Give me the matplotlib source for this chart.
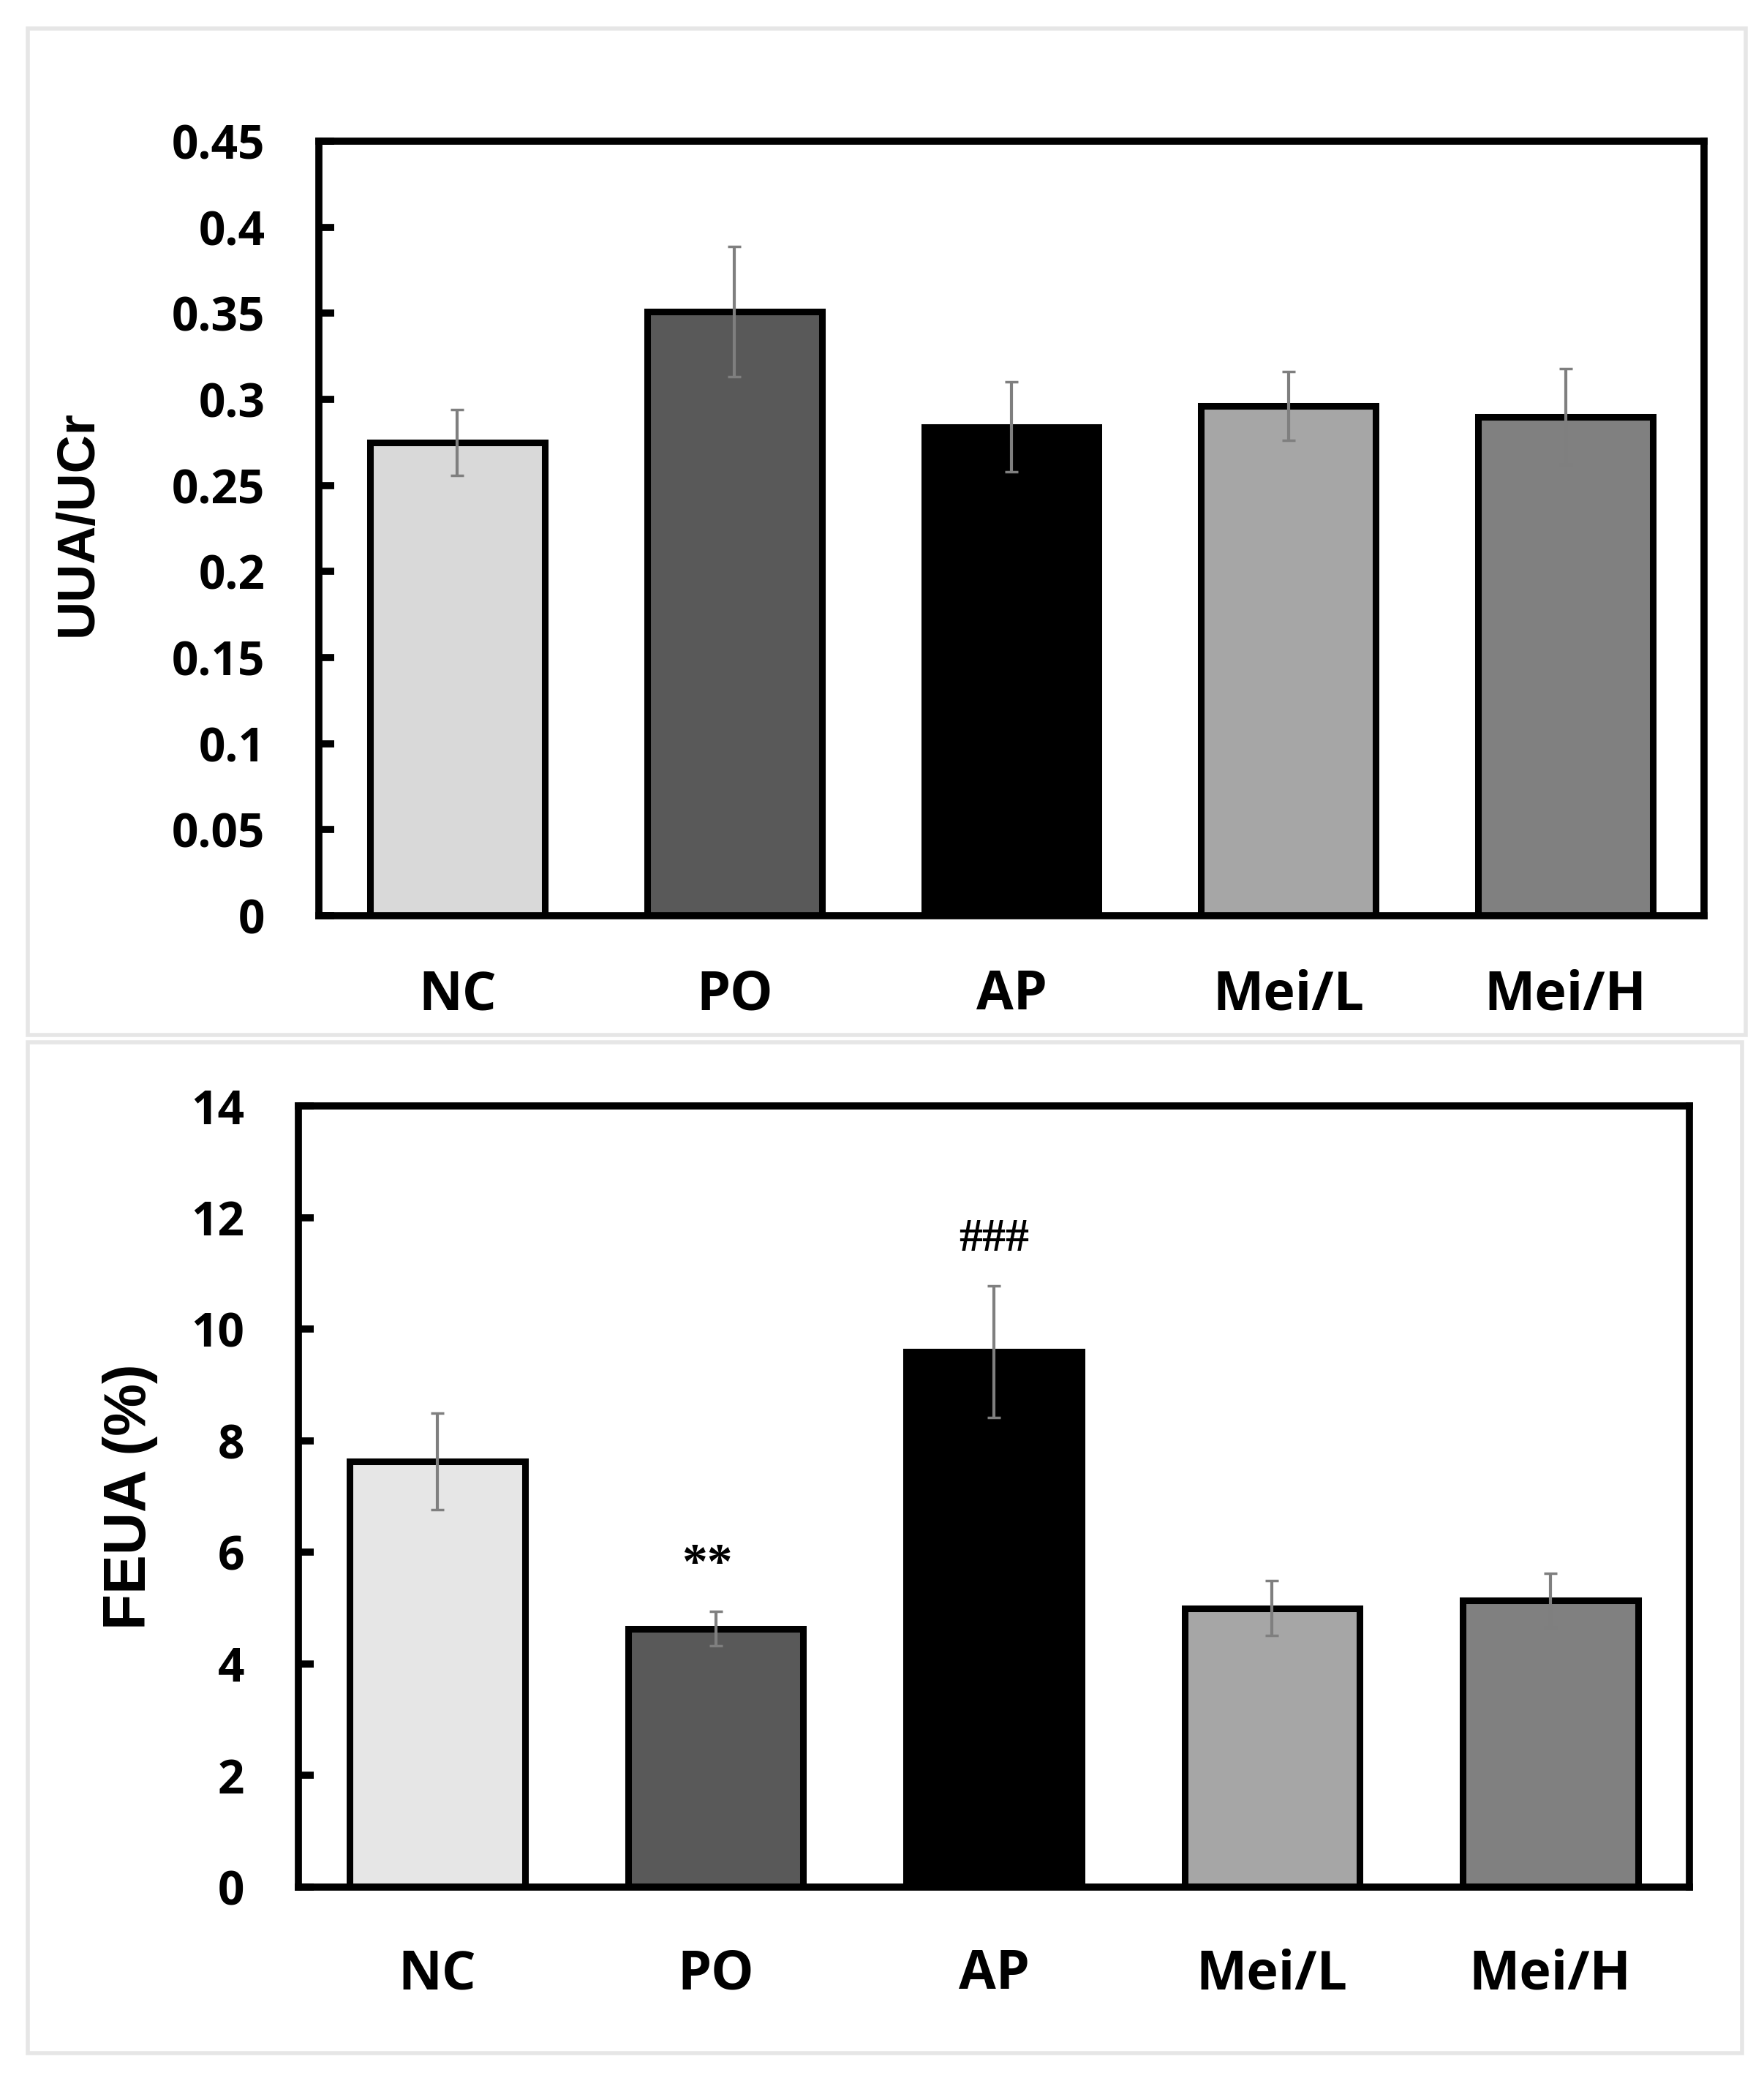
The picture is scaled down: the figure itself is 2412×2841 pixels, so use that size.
import matplotlib
matplotlib.use('Agg')
import matplotlib.pyplot as plt
from matplotlib.patches import Rectangle
import numpy as np

groups = ['NC', 'PO', 'AP', 'Mei/L', 'Mei/H']

uua_mean = [0.275, 0.351, 0.284, 0.296, 0.290]
uua_err = [0.019, 0.038, 0.026, 0.020, 0.028]

feua_mean = [7.63, 4.63, 9.59, 5.00, 5.14]
feua_err = [0.87, 0.31, 1.18, 0.49, 0.49]
feua_marks = ['**', '###']

colors_top = ['#d9d9d9', '#595959', '#000000', '#a6a6a6', '#808080']
colors_bottom = ['#e6e6e6', '#595959', '#000000', '#a6a6a6', '#808080']

tick_font = ['Open Sans', 'DejaVu Sans']
label_font = ['Liberation Sans', 'DejaVu Sans']


def drawBars(ax, means, errs, colors, ymax, step, xpad):
    x = np.arange(len(groups))
    ax.bar(x, means, width=0.63, color=colors, edgecolor='black', linewidth=6.5, zorder=2)
    ax.errorbar(x, means, yerr=errs, fmt='none', ecolor='#7f7f7f', elinewidth=3,
                capsize=6.5, capthick=2.5, zorder=3)
    ax.set_xlim(-0.5, len(groups) - 0.5)
    ax.set_ylim(0, ymax)
    ticks = np.arange(0, ymax + step / 2, step)
    ax.set_yticks(ticks)
    ax.set_yticklabels(['{:g}'.format(round(t, 2)) for t in ticks],
                       family=tick_font, fontweight='bold', fontsize=46)
    ax.set_xticks(x)
    ax.set_xticklabels(groups, family=tick_font, fontweight='bold', fontsize=53)
    ax.tick_params(axis='y', direction='in', length=15, width=7, pad=53)
    ax.tick_params(axis='x', length=0, pad=xpad)
    for s in ax.spines.values():
        s.set_linewidth(7)


fig = plt.figure(figsize=(24.12, 28.41), dpi=100)

# светло-серые рамки вокруг панелей
for (x0, y0, w, h) in [(38, 39, 2349, 1376), (38, 1425, 2344, 1382)]:
    fig.patches.append(Rectangle((x0 / 2412, 1 - (y0 + h) / 2841), w / 2412, h / 2841,
                                 transform=fig.transFigure, fill=False,
                                 edgecolor='#e6e6e6', linewidth=4))

ax1 = fig.add_axes([436 / 2412, 1 - 1252 / 2841, 1894 / 2412, 1059 / 2841])
drawBars(ax1, uua_mean, uua_err, colors_top, 0.45, 0.05, 52)
fig.text(107 / 2412, 1 - 715 / 2841, 'UUA/UCr', rotation=90, ha='center', va='center',
         family=label_font, fontweight='bold', fontsize=52)

ax2 = fig.add_axes([408 / 2412, 1 - 2580 / 2841, 1902 / 2412, 1068 / 2841])
drawBars(ax2, feua_mean, feua_err, colors_bottom, 14, 2, 60)
fig.text(178 / 2412, 1 - 2046 / 2841, 'FEUA (%)', rotation=90, ha='center', va='center',
         family=label_font, fontweight='bold', fontsize=58)

ax2.text(0.97, 5.53, feua_marks[0], ha='center', va='baseline',
         family='Liberation Serif', fontweight='bold', fontsize=50)
ax2.text(2.0, 11.4, feua_marks[1], ha='center', va='baseline',
         family='Liberation Serif', fontweight='bold', fontsize=46)

fig.savefig('out.png', dpi=100, facecolor='white')
